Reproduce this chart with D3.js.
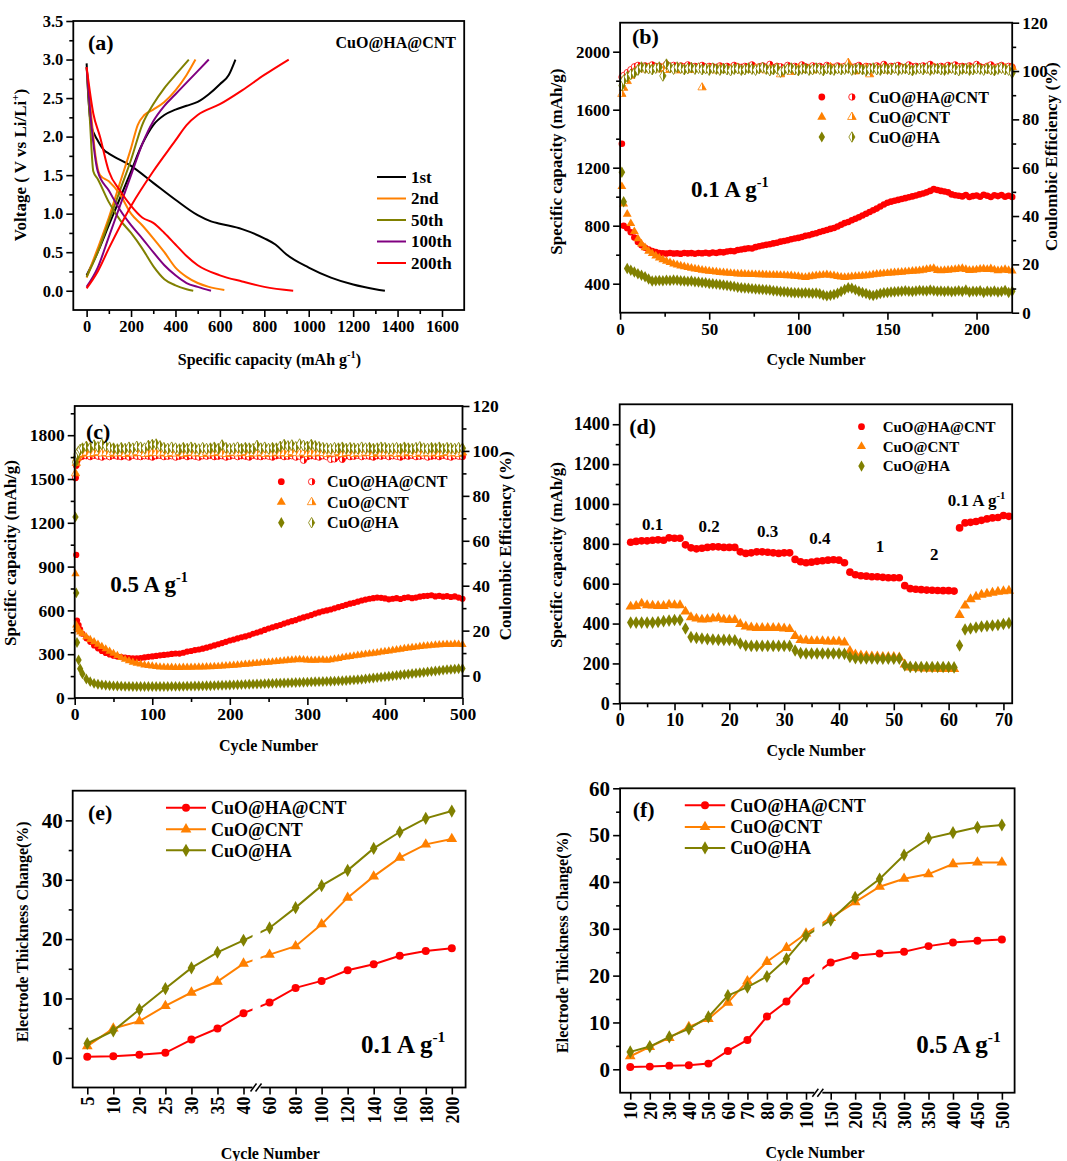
<!DOCTYPE html>
<html>
<head>
<meta charset="utf-8">
<script src="https://cdn.jsdelivr.net/npm/d3@7"></script>
<style>
body { margin: 0; background: #fff; }
svg text { font-family: "Liberation Serif", "Times New Roman", serif; font-weight: bold; fill: #000; }
</style>
</head>
<body>
<svg id="fig" width="1067" height="1161"></svg>
<script>
"use strict";

// ---------- (a) charge / discharge profiles ----------
const dis1Cap = [0, 8, 20, 50, 80, 100, 200, 300, 400, 500, 560, 600, 700, 800, 850, 900, 1000, 1100, 1200, 1300, 1343];
const dis1V = [2.95, 2.5, 2.15, 1.95, 1.82, 1.78, 1.62, 1.4, 1.18, 0.98, 0.9, 0.87, 0.8, 0.68, 0.6, 0.47, 0.3, 0.17, 0.08, 0.02, 0.0];
const ch1Cap = [0, 50, 100, 150, 200, 250, 300, 350, 400, 450, 500, 550, 600, 640, 670];
const ch1V = [0.2, 0.5, 0.85, 1.2, 1.55, 1.9, 2.15, 2.28, 2.35, 2.4, 2.45, 2.55, 2.68, 2.8, 3.0];
const dis2Cap = [0, 20, 40, 60, 100, 150, 200, 250, 300, 350, 400, 450, 500, 550, 620];
const dis2V = [2.9, 2.3, 1.75, 1.5, 1.42, 1.25, 1.0, 0.85, 0.68, 0.5, 0.3, 0.18, 0.1, 0.05, 0.01];
const ch2Cap = [0, 50, 100, 150, 200, 230, 260, 300, 350, 400, 450, 490];
const ch2V = [0.17, 0.55, 0.95, 1.4, 1.85, 2.15, 2.28, 2.35, 2.45, 2.6, 2.8, 3.0];
const dis50Cap = [0, 15, 30, 50, 100, 150, 200, 250, 300, 350, 400, 450, 480];
const dis50V = [2.9, 2.2, 1.55, 1.45, 1.15, 0.92, 0.75, 0.55, 0.32, 0.15, 0.07, 0.02, 0.0];
const ch50Cap = [0, 50, 100, 150, 200, 250, 300, 350, 400, 460];
const ch50V = [0.18, 0.5, 0.9, 1.3, 1.7, 2.15, 2.42, 2.63, 2.8, 3.0];
const dis100Cap = [0, 20, 50, 100, 150, 200, 250, 300, 350, 400, 450, 500, 560];
const dis100V = [2.9, 2.2, 1.55, 1.3, 1.05, 0.85, 0.68, 0.5, 0.33, 0.2, 0.1, 0.05, 0.0];
const ch100Cap = [0, 50, 100, 150, 200, 250, 300, 350, 400, 450, 500, 550];
const ch100V = [0.05, 0.3, 0.7, 1.1, 1.5, 1.9, 2.2, 2.4, 2.55, 2.7, 2.85, 3.0];
const dis200Cap = [0, 30, 60, 100, 150, 200, 250, 300, 350, 400, 450, 500, 600, 700, 800, 930];
const dis200V = [2.9, 2.3, 2.0, 1.55, 1.3, 1.1, 0.95, 0.88, 0.75, 0.6, 0.45, 0.33, 0.2, 0.12, 0.05, 0.0];
const ch200Cap = [0, 50, 100, 200, 300, 400, 450, 500, 600, 700, 800, 910];
const ch200V = [0.03, 0.25, 0.55, 1.1, 1.55, 1.95, 2.15, 2.28, 2.42, 2.6, 2.8, 3.0];
const cycleLabelsA = ["1st", "2nd", "50th", "100th", "200th"];

const samples = ["CuO@HA@CNT", "CuO@CNT", "CuO@HA"];

// ---------- (b) cycling at 0.1 A/g ----------
const cyclesB = [1].concat(d3.range(2, 221, 2));
const capB_hacnt = [1365,
  800, 782, 755, 718, 688, 665, 648, 636, 626, 618,
  612, 610, 608, 612, 608, 610, 606, 612, 609, 611,
  607, 612, 610, 614, 609, 615, 612, 618, 616, 622,
  626, 624, 632, 636, 640, 645, 643, 652, 658, 664,
  668, 672, 678, 682, 690, 694, 700, 706, 712, 716,
  722, 730, 734, 742, 748, 756, 764, 770, 778, 784,
  795, 806, 818, 826, 838, 848, 858, 870, 882, 894,
  906, 918, 932, 946, 958, 966, 972, 978, 984, 990,
  996, 1002, 1008, 1016, 1022, 1030, 1040, 1052, 1046, 1040,
  1036, 1030, 1016, 1010, 1006, 1002, 1012, 998, 1004, 1008,
  1000, 1014, 1006, 998, 1010, 1004, 1012, 1000, 1006, 998];
const capB_cnt = [1070,
  950, 880, 815, 760, 710, 675, 648, 625, 608, 592,
  578, 566, 555, 546, 537, 530, 523, 517, 512, 507,
  502, 498, 494, 490, 487, 484, 481, 478, 476, 474,
  472, 470, 468, 467, 466, 465, 464, 463, 462, 462,
  461, 460, 460, 459, 458, 457, 456, 455, 452, 450,
  446, 443, 448, 452, 456, 458, 460, 462, 458, 455,
  450, 446, 444, 446, 448, 450, 452, 454, 456, 458,
  462, 466, 468, 470, 472, 474, 476, 478, 480, 482,
  484, 486, 488, 490, 494, 498, 502, 505, 492, 490,
  492, 494, 496, 498, 502, 505, 498, 492, 494, 496,
  500, 502, 498, 504, 496, 490, 494, 498, 492, 488];
const capB_ha = [1168,
  965, 505, 492, 480, 468, 458, 448, 432, 418, 420,
  422, 420, 424, 422, 426, 424, 420, 418, 416, 418,
  414, 412, 408, 406, 402, 400, 397, 394, 391, 388,
  384, 380, 376, 372, 370, 368, 366, 364, 362, 360,
  358, 356, 352, 350, 346, 344, 342, 340, 338, 337,
  336, 338, 336, 334, 336, 330, 322, 316, 320, 326,
  334, 346, 360, 372, 368, 358, 348, 340, 332, 324,
  318, 326, 332, 338, 340, 342, 344, 346, 348, 352,
  348, 346, 350, 354, 352, 350, 356, 352, 348, 350,
  346, 350, 344, 348, 352, 346, 356, 342, 348, 346,
  352, 340, 348, 344, 350, 342, 346, 354, 340, 348];
const ceB_hacnt = [97.5,
  98.2, 99.4, 100.6, 101.8, 102.4, 101.6, 102.2, 101.4, 102.6, 101.8,
  102.0, 101.2, 102.8, 101.6, 102.4, 101.0, 102.2, 101.8, 102.6, 101.4,
  102.0, 101.6, 102.4, 101.2, 102.0, 101.8, 101.4, 102.2, 101.6, 102.0,
  101.2, 102.4, 101.8, 101.6, 102.0, 101.4, 102.6, 101.2, 101.8, 102.2,
  101.6, 102.8, 101.4, 102.0, 101.8, 101.2, 102.4, 101.6, 102.0, 101.4,
  102.6, 101.8, 101.2, 102.2, 101.6, 102.0, 101.4, 102.4, 101.8, 101.6,
  102.2, 101.2, 102.0, 102.6, 101.6, 101.8, 102.4, 101.4, 102.0, 101.8,
  101.2, 102.2, 101.6, 102.8, 101.4, 102.0, 101.8, 102.4, 101.6, 101.2,
  102.6, 101.8, 102.0, 101.4, 102.2, 101.6, 102.8, 101.8, 101.4, 102.0,
  101.6, 102.4, 101.2, 102.6, 101.8, 102.0, 101.4, 102.2, 101.6, 102.8,
  101.8, 101.4, 102.0, 102.6, 101.6, 101.8, 102.4, 101.2, 102.0, 101.6];
const ceB_cnt = [90.5,
  93.0, 95.8, 98.0, 99.6, 100.8, 101.2, 100.6, 101.4, 100.8, 101.0,
  100.6, 101.2, 100.4, 101.0, 100.8, 100.2, 101.4, 100.6, 101.0, 100.4,
  100.8, 101.2, 93.2, 100.4, 101.0, 100.6, 100.2, 101.2, 100.8, 100.4,
  101.0, 100.6, 101.4, 100.2, 100.8, 101.0, 100.4, 101.2, 100.6, 100.8,
  100.2, 101.0, 100.6, 101.4, 98.6, 100.4, 101.0, 99.6, 100.6, 101.2,
  100.4, 100.8, 101.0, 100.2, 101.2, 100.6, 100.4, 101.0, 101.6, 100.8,
  100.4, 101.2, 100.6, 103.4, 101.0, 99.8, 101.0, 100.6, 101.2, 98.6,
  100.8, 101.0, 100.6, 101.4, 100.2, 101.0, 100.8, 100.4, 101.2, 100.6,
  101.0, 100.4, 100.8, 101.2, 100.6, 101.0, 100.2, 101.4, 100.8, 100.6,
  101.0, 100.4, 101.2, 100.8, 100.6, 101.0, 100.4, 101.2, 100.6, 100.8,
  101.0, 100.6, 101.4, 100.2, 100.8, 101.0, 100.6, 101.2, 100.4, 101.6];
const ceB_ha = [94.0,
  96.2, 97.6, 98.6, 99.2, 100.4, 101.6, 101.2, 101.0, 100.6, 101.2,
  101.6, 98.0, 102.8, 101.4, 100.8, 101.6, 101.2, 100.6, 101.0, 101.4,
  100.8, 101.2, 100.6, 101.0, 100.4, 101.2, 100.8, 100.4, 101.0, 100.6,
  100.2, 100.8, 101.0, 100.4, 100.6, 101.2, 100.8, 100.4, 101.0, 101.4,
  100.8, 100.2, 100.6, 101.0, 99.6, 100.4, 100.8, 101.2, 100.6, 100.2,
  100.8, 101.0, 100.4, 100.6, 101.2, 100.8, 100.2, 101.0, 100.6, 100.4,
  101.0, 100.6, 100.8, 101.2, 100.4, 100.8, 101.0, 100.6, 100.2, 100.8,
  101.2, 100.6, 100.4, 101.0, 100.8, 100.6, 101.2, 100.4, 100.8, 101.0,
  100.6, 100.2, 100.8, 101.0, 100.6, 101.2, 100.4, 100.8, 101.0, 100.6,
  100.4, 100.8, 101.2, 100.6, 100.2, 100.8, 101.0, 100.4, 100.6, 101.0,
  100.8, 100.4, 101.0, 100.6, 100.2, 100.8, 101.2, 100.6, 100.4, 99.2];

// ---------- (c) cycling at 0.5 A/g ----------
const cyclesC = [1, 2, 3, 5, 7].concat(d3.range(10, 501, 5));
const capC_hacnt = [1510, 980, 530, 500, 470,
  440, 410, 385, 360, 340, 322, 308, 298, 290, 284,
  280, 276, 274, 272, 272, 274, 278, 282, 285, 288,
  292, 295, 298, 302, 305, 304, 310, 318, 322, 328,
  332, 338, 345, 352, 360, 368, 376, 385, 394, 400,
  408, 416, 422, 430, 440, 448, 456, 466, 476, 484,
  492, 500, 510, 518, 526, 534, 544, 552, 560, 568,
  578, 586, 594, 600, 606, 614, 622, 630, 638, 646,
  652, 660, 668, 674, 680, 684, 688, 686, 682, 676,
  680, 684, 678, 686, 690, 684, 688, 694, 698, 700,
  704, 696, 700, 694, 698, 692, 696, 688, 680];
const capC_cnt = [850, 500, 480, 465, 452,
  440, 418, 400, 385, 368, 352, 336, 320, 305, 290,
  276, 264, 254, 245, 238, 232, 226, 222, 218, 215,
  212, 211, 210, 210, 209, 209, 210, 210, 210, 211,
  212, 212, 213, 214, 215, 216, 218, 220, 222, 224,
  226, 228, 230, 233, 236, 238, 240, 242, 244, 247,
  250, 252, 255, 258, 260, 262, 264, 262, 260, 258,
  258, 260, 262, 258, 262, 266, 270, 276, 280, 284,
  288, 292, 296, 300, 303, 306, 310, 314, 318, 322,
  326, 330, 334, 338, 342, 345, 348, 352, 356, 358,
  360, 362, 364, 366, 368, 366, 370, 368, 366];
const capC_ha = [1240, 720, 380, 260, 200,
  165, 130, 112, 100, 94, 90, 87, 85, 83, 82,
  81, 80, 80, 79, 79, 79, 79, 79, 79, 79,
  79, 79, 79, 80, 80, 80, 80, 81, 81, 82,
  82, 83, 84, 84, 85, 86, 87, 88, 89, 90,
  91, 92, 93, 94, 95, 96, 97, 98, 99, 100,
  101, 102, 103, 104, 105, 106, 107, 108, 109, 110,
  111, 112, 113, 114, 115, 116, 117, 118, 120, 122,
  124, 126, 128, 131, 134, 137, 140, 143, 146, 149,
  152, 155, 158, 161, 164, 167, 170, 173, 176, 179,
  182, 185, 188, 191, 194, 196, 198, 200, 202];
const ceC_hacnt = [88.0, 93.5, 95.5, 96.8, 97.4,
  97.6, 97.8, 97.4, 98.0, 97.6, 97.2, 97.8, 97.4, 98.0, 97.6,
  97.4, 97.8, 97.2, 98.0, 97.6, 97.4, 97.8, 97.6, 97.2, 97.8,
  98.0, 97.4, 97.6, 97.8, 97.2, 97.6, 98.0, 97.4, 97.8, 97.6,
  97.2, 97.8, 97.6, 98.0, 97.4, 97.6, 97.8, 97.2, 97.6, 98.0,
  97.4, 97.8, 97.6, 97.2, 98.0, 97.6, 97.4, 97.8, 97.6, 97.2,
  97.8, 98.0, 97.4, 97.6, 97.8, 97.2, 97.6, 95.8, 97.4, 97.8,
  97.6, 97.2, 97.8, 97.4, 96.2, 96.4, 97.6, 96.2, 97.8, 97.4,
  97.6, 98.0, 97.4, 97.8, 97.6, 97.2, 97.8, 97.6, 98.0, 97.4,
  97.8, 97.6, 97.2, 97.8, 97.6, 98.0, 97.4, 97.6, 97.8, 97.2,
  97.6, 97.8, 97.4, 98.0, 97.6, 97.2, 97.8, 97.6, 97.4];
const ceC_cnt = [90.0, 94.6, 96.8, 98.0, 98.6,
  98.8, 99.2, 98.6, 99.0, 99.4, 98.8, 99.0, 98.6, 99.2, 98.8,
  99.0, 98.6, 99.2, 98.8, 99.4, 99.0, 98.6, 98.8, 99.2, 99.0,
  98.8, 99.2, 98.6, 99.0, 98.8, 99.4, 98.6, 99.0, 99.2, 98.8,
  99.0, 98.6, 99.2, 98.8, 99.0, 99.4, 98.8, 98.6, 99.0, 99.2,
  98.8, 99.0, 99.4, 98.6, 99.0, 98.8, 99.2, 98.6, 99.0, 98.8,
  99.2, 98.8, 99.0, 98.6, 99.4, 99.0, 98.8, 99.2, 98.6, 99.0,
  98.8, 99.2, 99.0, 98.6, 99.0, 98.8, 99.4, 98.6, 99.0, 99.2,
  98.6, 99.0, 98.8, 99.2, 99.0, 98.6, 99.4, 98.8, 99.0, 98.8,
  99.2, 98.6, 99.0, 98.8, 99.4, 99.0, 98.6, 99.2, 98.8, 99.0,
  98.8, 99.2, 98.6, 99.0, 99.4, 98.8, 99.0, 98.6, 99.2];
const ceC_ha = [95.0, 97.2, 98.6, 99.8, 100.6,
  101.2, 102.0, 101.4, 102.6, 101.8, 103.0, 102.2, 101.6, 101.2, 100.8,
  101.4, 101.0, 101.6, 101.2, 102.0, 101.6, 101.2, 102.4, 102.8, 103.0,
  102.2, 101.4, 101.0, 101.6, 101.2, 100.8, 101.4, 101.0, 101.6, 101.2,
  100.8, 101.4, 101.0, 101.2, 101.6, 101.0, 102.6, 101.4, 101.0, 101.2,
  101.6, 101.0, 101.4, 101.2, 101.0, 102.4, 101.2, 101.6, 101.0, 101.4,
  101.2, 102.0, 102.8, 102.2, 102.6, 101.8, 103.0, 102.4, 102.0, 102.8,
  102.2, 101.8, 101.4, 101.2, 101.0, 101.4, 101.2, 101.6, 101.0, 101.4,
  101.2, 101.0, 101.6, 101.2, 101.4, 101.0, 101.2, 101.6, 101.4, 101.0,
  101.2, 101.4, 101.0, 101.6, 101.2, 101.0, 101.4, 101.8, 101.2, 101.0,
  101.4, 101.2, 101.6, 101.0, 101.4, 101.2, 101.0, 101.4, 101.2];

// ---------- (d) rate capability ----------
const cyclesD = d3.range(2, 72);
const capD_hacnt = [808, 812, 815, 815, 818, 820, 818, 830, 828, 828,
  795, 780, 775, 778, 782, 785, 785, 782, 782, 782,
  760, 752, 755, 760, 760, 758, 755, 752, 755, 755,
  722, 710, 705, 708, 712, 715, 718, 720, 718, 705,
  658, 645, 640, 638, 635, 635, 632, 630, 630, 630,
  590, 575, 572, 570, 568, 567, 566, 565, 565, 563,
  880, 905, 908, 912, 918, 925, 930, 932, 942, 938];
const capD_cnt = [485, 488, 500, 492, 490, 488, 488, 495, 492, 492,
  460, 432, 425, 420, 422, 425, 428, 420, 418, 418,
  398, 385, 380, 378, 378, 378, 378, 378, 375, 372,
  338, 318, 315, 312, 312, 312, 310, 310, 310, 305,
  262, 245, 240, 238, 235, 235, 233, 232, 232, 230,
  195, 180, 178, 176, 175, 174, 173, 172, 172, 172,
  443, 490, 522, 535, 545, 550, 555, 560, 562, 565];
const capD_ha = [405, 405, 405, 405, 405, 408, 412, 415, 418, 418,
  375, 332, 328, 325, 322, 320, 318, 318, 318, 316,
  300, 290, 288, 288, 288, 288, 288, 288, 288, 288,
  265, 252, 250, 250, 250, 250, 250, 250, 250, 248,
  232, 226, 225, 225, 225, 224, 224, 224, 224, 224,
  190, 183, 182, 182, 182, 182, 182, 182, 182, 180,
  290, 370, 375, 380, 385, 388, 390, 393, 398, 402];
const rateLabelsD = ["0.1", "0.2", "0.3", "0.4", "1", "2"];
const rateCyclesD = [6.0, 16.3, 27.0, 36.5, 47.5, 57.4];
const rateValuesD = [870, 860, 835, 800, 760, 720];

// ---------- (e) thickness change at 0.1 A/g ----------
const cyclesE = [5, 10, 20, 25, 30, 35, 40, 60, 80, 100, 120, 140, 160, 180, 200];
const thickE_hacnt = [0.17, 0.28, 0.5, 0.84, 3.08, 4.94, 7.52, 9.31, 11.78, 12.96, 14.75, 15.76, 17.2, 18.0, 18.46];
const thickE_cnt = [1.96, 4.94, 6.17, 8.75, 11.0, 12.85, 15.88, 17.39, 18.8, 22.5, 26.98, 30.57, 33.72, 35.96, 36.86];
const thickE_ha = [2.41, 4.54, 8.13, 11.67, 15.15, 17.78, 19.8, 21.88, 25.3, 29.0, 31.58, 35.28, 38.04, 40.34, 41.57];

// ---------- (f) thickness change at 0.5 A/g ----------
const cyclesF = [10, 20, 30, 40, 50, 60, 70, 80, 90, 100, 150, 200, 250, 300, 350, 400, 450, 500];
const thickF_hacnt = [0.5, 0.57, 0.78, 0.86, 1.21, 3.92, 6.27, 11.26, 14.47, 18.88, 22.8, 24.23, 24.73, 25.08, 26.3, 27.08, 27.43, 27.72];
const thickF_cnt = [2.78, 4.77, 6.7, 9.05, 10.76, 14.25, 18.81, 22.95, 25.94, 29.0, 32.35, 35.7, 38.98, 40.69, 41.68, 43.82, 44.18, 44.18];
const thickF_ha = [3.71, 4.85, 6.91, 8.62, 11.19, 15.75, 17.53, 19.81, 23.59, 28.5, 31.85, 36.7, 40.62, 45.75, 49.31, 50.52, 51.66, 52.16];

// tick labels
const ticksA_x = [0, 200, 400, 600, 800, 1000, 1200, 1400, 1600];
const ticksA_y = [0, 0.5, 1.0, 1.5, 2.0, 2.5, 3.0, 3.5];
const ticksB_x = [0, 50, 100, 150, 200];
const ticksB_y = [400, 800, 1200, 1600, 2000];
const ticksCE = [0, 20, 40, 60, 80, 100, 120];
const ticksC_x = [0, 100, 200, 300, 400, 500];
const ticksC_y = [0, 300, 600, 900, 1200, 1500, 1800];
const ticksD_x = [0, 10, 20, 30, 40, 50, 60, 70];
const ticksD_y = [0, 200, 400, 600, 800, 1000, 1200, 1400];
const ticksE_y = [0, 10, 20, 30, 40];
const ticksF_y = [0, 10, 20, 30, 40, 50, 60];

// ================= drawing =================
const RED = "#ff0000", ORANGE = "#ff8000", OLIVE = "#808000", PURPLE = "#800080";
const sampleColors = [RED, ORANGE, OLIVE];
const svg = d3.select("#fig");

const defs = svg.append("defs");
[["red", RED], ["orange", ORANGE], ["olive", OLIVE]].forEach(([n, c]) => {
    const lg = defs.append("linearGradient").attr("id", "half-" + n);
    lg.append("stop").attr("offset", "50%").attr("stop-color", "#fff");
    lg.append("stop").attr("offset", "50%").attr("stop-color", c);
});
const halfFill = ["url(#half-red)", "url(#half-orange)", "url(#half-olive)"];

function panel(left, top, right, bottom) {
    const g = svg.append("g").attr("transform", `translate(${left},${top})`);
    return {g: g, w: right - left, h: bottom - top, left: left, top: top};
}

function frame(p) {
    p.g.append("rect")
        .attr("width", p.w).attr("height", p.h)
        .attr("fill", "none").attr("stroke", "#000").attr("stroke-width", 1.8);
}

function axis(p, orient, scale, major, minor, fmt, size) {
    const make = {left: d3.axisLeft, right: d3.axisRight, bottom: d3.axisBottom}[orient];
    const pos = orient === "right" ? `translate(${p.w},0)` : orient === "bottom" ? `translate(0,${p.h})` : null;
    const gMin = p.g.append("g").attr("transform", pos)
        .call(make(scale).tickValues(minor).tickSize(4).tickFormat(""));
    const gMaj = p.g.append("g").attr("transform", pos)
        .call(make(scale).tickValues(major).tickSize(7).tickPadding(3).tickFormat(fmt || d3.format("d")));
    [gMin, gMaj].forEach(a => {
        a.select(".domain").remove();
        a.selectAll("line").attr("stroke", "#000").attr("stroke-width", 1.6);
    });
    gMaj.selectAll("text").attr("font-size", size || 16).attr("fill", "#000");
    return gMaj;
}

function title(x, y, txt, size, rotate, sup) {
    const t = svg.append("text")
        .attr("transform", `translate(${x},${y})` + (rotate ? " rotate(-90)" : ""))
        .attr("text-anchor", "middle").attr("font-size", size);
    if (sup) {
        t.append("tspan").text(txt[0]);
        t.append("tspan").attr("font-size", size * 0.65).attr("dy", -size * 0.4).text(sup);
        t.append("tspan").attr("dy", size * 0.4).text(txt[1]);
    } else {
        t.text(txt);
    }
    return t;
}

function rateText(x, y, base, sup, size, anchor) {
    const t = svg.append("text").attr("x", x).attr("y", y)
        .attr("font-size", size).attr("text-anchor", anchor || "start");
    t.append("tspan").text(base);
    if (sup) t.append("tspan").attr("font-size", size * 0.62).attr("dy", -size * 0.42).text(sup);
    return t;
}

const symCircle = d3.symbol().type(d3.symbolCircle);
const symTri = d3.symbol().type(d3.symbolTriangle);
const symDia = d3.symbol().type(d3.symbolDiamond);
const sampleSyms = [symCircle, symTri, symDia];

function scatter(p, xs, ys, xs_, ys_, sym, size, fill, stroke) {
    p.g.append("g").selectAll("path")
        .data(xs.map((x, i) => [x, ys[i]]))
        .join("path")
        .attr("transform", d => `translate(${xs_(d[0])},${ys_(d[1])})`)
        .attr("d", sym.size(size)())
        .attr("fill", fill)
        .attr("stroke", stroke || "none")
        .attr("stroke-width", 0.8);
}

// ---------------- (a) ----------------
{
    const p = panel(73.3, 21, 464.2, 310);
    const x = d3.scaleLinear().domain([-60, 1700]).range([0, p.w]);
    const y = d3.scaleLinear().domain([-0.25, 3.5]).range([p.h, 0]);
    const line = d3.line().curve(d3.curveMonotoneX).x(d => x(d[0])).y(d => y(d[1]));
    const curves = [
        [dis1Cap, dis1V, ch1Cap, ch1V, "#000"],
        [dis2Cap, dis2V, ch2Cap, ch2V, ORANGE],
        [dis50Cap, dis50V, ch50Cap, ch50V, OLIVE],
        [dis100Cap, dis100V, ch100Cap, ch100V, PURPLE],
        [dis200Cap, dis200V, ch200Cap, ch200V, RED]
    ];
    curves.forEach(c => {
        [[c[0], c[1]], [c[2], c[3]]].forEach(s => {
            p.g.append("path")
                .datum(s[0].map((v, i) => [v, s[1][i]]))
                .attr("d", line).attr("fill", "none")
                .attr("stroke", c[4]).attr("stroke-width", 2);
        });
    });
    frame(p);
    axis(p, "left", y, ticksA_y, d3.range(0.25, 3.5, 0.5), d3.format(".1f"), 16.5);
    axis(p, "bottom", x, ticksA_x, d3.range(100, 1700, 200), null, 16.5);
    cycleLabelsA.forEach((lab, i) => {
        const yy = 177 + i * 21.5 - p.top;
        p.g.append("line").attr("x1", 377 - p.left).attr("x2", 406 - p.left)
            .attr("y1", yy).attr("y2", yy).attr("stroke", curves[i][4]).attr("stroke-width", 2);
        p.g.append("text").attr("x", 411 - p.left).attr("y", yy).attr("dy", "0.35em")
            .attr("font-size", 17).text(lab);
    });
    svg.append("text").attr("x", 456).attr("y", 47.5).attr("text-anchor", "end")
        .attr("font-size", 16).text("CuO@HA@CNT");
    svg.append("text").attr("x", 88).attr("y", 50).attr("font-size", 22).text("(a)");
    title(269.4, 364.5, ["Specific capacity (mAh g", ")"], 16, false, "-1");
    title(25.8, 165, ["Voltage ( V vs Li/Li", ")"], 17, true, "+");
}

// ---------------- (b) ----------------
{
    const p = panel(620.1, 22.7, 1012.2, 312.7);
    const x = d3.scaleLinear().domain([0, 220]).range([0, p.w]);
    const y = d3.scaleLinear().domain([200, 2200]).range([p.h, 0]);
    const yR = d3.scaleLinear().domain([0, 120]).range([p.h, 0]);
    const caps = [capB_hacnt, capB_cnt, capB_ha];
    const ces = [ceB_hacnt, ceB_cnt, ceB_ha];
    const sizes = [34, 34, 38];
    caps.forEach((s, i) => scatter(p, cyclesB, s, x, y, sampleSyms[i], sizes[i], sampleColors[i]));
    ces.forEach((s, i) => scatter(p, cyclesB, s, x, yR, sampleSyms[i], sizes[i] - 4, halfFill[i], sampleColors[i]));
    frame(p);
    axis(p, "left", y, ticksB_y, [600, 1000, 1400, 1800], null, 17);
    axis(p, "right", yR, ticksCE, d3.range(10, 120, 20), null, 17);
    axis(p, "bottom", x, ticksB_x, [25, 75, 125, 175], null, 17);
    samples.forEach((s, i) => {
        const yy = 97 + i * 20 - p.top;
        p.g.append("path").attr("transform", `translate(${821.8 - p.left},${yy})`)
            .attr("d", sampleSyms[i].size(36)()).attr("fill", sampleColors[i]);
        p.g.append("path").attr("transform", `translate(${851.9 - p.left},${yy})`)
            .attr("d", sampleSyms[i].size(32)()).attr("fill", halfFill[i])
            .attr("stroke", sampleColors[i]).attr("stroke-width", 0.8);
        p.g.append("text").attr("x", 868.4 - p.left).attr("y", yy).attr("dy", "0.35em")
            .attr("font-size", 16).text(s);
    });
    svg.append("text").attr("x", 632).attr("y", 43.5).attr("font-size", 22).text("(b)");
    rateText(691, 197, "0.1 A g", "-1", 23);
    title(816, 364.5, "Cycle Number", 16);
    title(562, 161.7, "Specific capacity (mAh/g)", 17, true);
    title(1057.4, 156.7, "Coulombic Efficiency (%)", 17, true);
}

// ---------------- (c) ----------------
{
    const p = panel(74.7, 406, 462.5, 698);
    const x = d3.scaleLinear().domain([0, 500]).range([0, p.w]);
    const y = d3.scaleLinear().domain([0, 2000]).range([p.h, 0]);
    const yR = d3.scaleLinear().domain([-10, 120]).range([p.h, 0]);
    const caps = [capC_hacnt, capC_cnt, capC_ha];
    const ces = [ceC_hacnt, ceC_cnt, ceC_ha];
    const sizes = [30, 30, 34];
    caps.forEach((s, i) => scatter(p, cyclesC, s, x, y, sampleSyms[i], sizes[i], sampleColors[i]));
    ces.forEach((s, i) => scatter(p, cyclesC, s, x, yR, sampleSyms[i], sizes[i], halfFill[i], sampleColors[i]));
    frame(p);
    axis(p, "left", y, ticksC_y, d3.range(150, 2000, 300), null, 17.5);
    axis(p, "right", yR, ticksCE, d3.range(10, 120, 20), null, 17.5);
    axis(p, "bottom", x, ticksC_x, d3.range(50, 500, 100), null, 17.5);
    samples.forEach((s, i) => {
        const yy = 481.7 + i * 20.5 - p.top;
        p.g.append("path").attr("transform", `translate(${281.3 - p.left},${yy})`)
            .attr("d", sampleSyms[i].size(36)()).attr("fill", sampleColors[i]);
        p.g.append("path").attr("transform", `translate(${311.6 - p.left},${yy})`)
            .attr("d", sampleSyms[i].size(32)()).attr("fill", halfFill[i])
            .attr("stroke", sampleColors[i]).attr("stroke-width", 0.8);
        p.g.append("text").attr("x", 327.1 - p.left).attr("y", yy).attr("dy", "0.35em")
            .attr("font-size", 16).text(s);
    });
    svg.append("text").attr("x", 86).attr("y", 438.5).attr("font-size", 22).text("(c)");
    rateText(110.2, 591.7, "0.5 A g", "-1", 23);
    title(268.6, 750.5, "Cycle Number", 16);
    title(16, 553, "Specific capacity (mAh/g)", 17, true);
    title(511.4, 545.8, "Coulombic Efficiency (%)", 17, true);
}

// ---------------- (d) ----------------
{
    const p = panel(619.7, 404.3, 1012.2, 703.3);
    const x = d3.scaleLinear().domain([0, 71.6]).range([0, p.w]);
    const y = d3.scaleLinear().domain([0, 1500]).range([p.h, 0]);
    const caps = [capD_hacnt, capD_cnt, capD_ha];
    caps.forEach((s, i) => scatter(p, cyclesD, s, x, y, sampleSyms[i], 46, sampleColors[i]));
    frame(p);
    axis(p, "left", y, ticksD_y, d3.range(100, 1500, 200), null, 18);
    axis(p, "bottom", x, ticksD_x, d3.range(5, 71, 10), null, 18);
    samples.forEach((s, i) => {
        const yy = 426.7 + i * 19.7 - p.top;
        p.g.append("path").attr("transform", `translate(${861.5 - p.left},${yy})`)
            .attr("d", sampleSyms[i].size(36)()).attr("fill", sampleColors[i]);
        p.g.append("text").attr("x", 882.7 - p.left).attr("y", yy).attr("dy", "0.35em")
            .attr("font-size", 15).text(s);
    });
    rateLabelsD.forEach((r, i) => {
        p.g.append("text").attr("x", x(rateCyclesD[i])).attr("y", y(rateValuesD[i]))
            .attr("text-anchor", "middle").attr("font-size", 17).text(r);
    });
    rateText(947.8, 506, "0.1 A g", "-1", 17);
    svg.append("text").attr("x", 629.3).attr("y", 433.5).attr("font-size", 22).text("(d)");
    title(816, 755.5, "Cycle Number", 16);
    title(562, 555, "Specific capacity (mAh/g)", 17, true);
}

// ---------- thickness panels (e), (f) ----------
function thickness(p, xs, x, y, series, breakX, tickVals, tickFmt, yTicks, legX) {
    const line = d3.line().x(d => x(d[0])).y(d => y(d[1]));
    series.forEach((s, i) => {
        const pts = xs.map((v, k) => [v, s[k]]);
        p.g.append("path").datum(pts).attr("d", line).attr("fill", "none")
            .attr("stroke", sampleColors[i]).attr("stroke-width", 2);
        scatter(p, xs, s, x, y, sampleSyms[i], 50, sampleColors[i]);
    });
    frame(p);
    // axis break
    p.g.append("rect").attr("x", breakX - 4).attr("y", 2).attr("width", 8).attr("height", p.h)
        .attr("fill", "#fff");
    [-3, 2].forEach(dx => {
        p.g.append("line").attr("x1", breakX + dx - 3).attr("y1", p.h + 4)
            .attr("x2", breakX + dx + 3).attr("y2", p.h - 4)
            .attr("stroke", "#000").attr("stroke-width", 1.5);
    });
    axis(p, "left", y, yTicks, d3.range(5, y.domain()[1], 10), null, 21);
    const ax = axis(p, "bottom", x, tickVals, [], tickFmt, 18);
    ax.selectAll("text").attr("transform", "rotate(-90)").attr("text-anchor", "end")
        .attr("x", -9).attr("y", 0).attr("dy", "0.35em");
    samples.forEach((s, i) => {
        const yy = [17, 38.6, 59.6][i];
        p.g.append("line").attr("x1", legX[0]).attr("x2", legX[1]).attr("y1", yy).attr("y2", yy)
            .attr("stroke", sampleColors[i]).attr("stroke-width", 2);
        p.g.append("path").attr("transform", `translate(${(legX[0] + legX[1]) / 2},${yy})`)
            .attr("d", sampleSyms[i].size(50)()).attr("fill", sampleColors[i]);
        p.g.append("text").attr("x", legX[1] + 5).attr("y", yy).attr("dy", "0.35em")
            .attr("font-size", 18).text(s);
    });
}

// ---------------- (e) ----------------
{
    const p = panel(72.7, 790.7, 465.6, 1087.5);
    const x = d3.scaleLinear().domain([-0.56, 14.53]).range([0, p.w]);
    const y = d3.scaleLinear().domain([-5, 45]).range([p.h, 0]);
    const idx = cyclesE.map((c, i) => i);
    thickness(p, idx, x, y, [thickE_hacnt, thickE_cnt, thickE_ha], x(6.5), idx,
        i => cyclesE[i], ticksE_y, [166 - p.left, 206 - p.left]);
    svg.append("text").attr("x", 88).attr("y", 820).attr("font-size", 22).text("(e)");
    rateText(360.9, 1052.7, "0.1 A g", "-1", 25);
    title(270.3, 1158.5, "Cycle Number", 16);
    title(27.5, 931.7, "Electrode Thickness Change(%)", 16, true);
}

// ---------------- (f) ----------------
{
    const p = panel(620.1, 788.3, 1014.6, 1092.7);
    const x = d3.scaleLinear().domain([4.8, 100, 150, 526]).range([0, 185.9, 210.6, p.w]);
    const y = d3.scaleLinear().domain([-5, 60]).range([p.h, 0]);
    thickness(p, cyclesF, x, y, [thickF_hacnt, thickF_cnt, thickF_ha], x(125), cyclesF,
        d3.format("d"), ticksF_y, [684.8 - p.left, 725.2 - p.left]);
    svg.append("text").attr("x", 632.7).attr("y", 817).attr("font-size", 22).text("(f)");
    rateText(916.3, 1052.7, "0.5 A g", "-1", 25);
    title(815, 1158, "Cycle Number", 16);
    title(567.7, 942.5, "Electrode Thickness Change(%)", 16, true);
}
</script>
</body>
</html>
